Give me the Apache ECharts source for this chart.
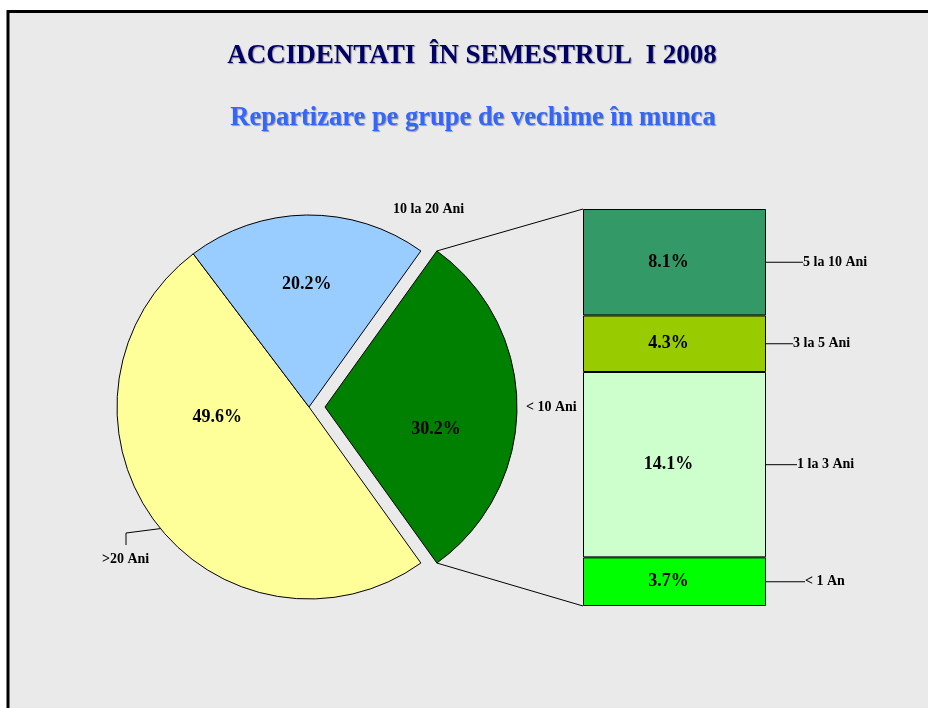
<!DOCTYPE html>
<html>
<head>
<meta charset="utf-8">
<script src="https://cdn.jsdelivr.net/npm/echarts@6/dist/echarts.min.js"></script>
<style>
html, body { margin: 0; padding: 0; background: #fff; }
#main { width: 928px; height: 708px; }
</style>
</head>
<body>
<div id="main"></div>
<script>
// pie: the exploded slice (< 10 Ani) is broken down in the bar on the right
var pieNames = ['< 10 Ani', '>20 Ani', '10 la 20 Ani'];
var pieValues = [30.2, 49.6, 20.2];
var pieColors = ['#008000', '#ffff99', '#99ccff'];

// stacked bar, bottom to top
var barNames = ['< 1 An', '1 la 3 Ani', '3 la 5 Ani', '5 la 10 Ani'];
var barValues = [3.7, 14.1, 4.3, 8.1];
var barColors = ['#00ff00', '#ccffcc', '#99cc00', '#339966'];

var FONT = '"Liberation Serif", "Times New Roman", serif';

// layout
var cx = 309, cy = 407, R = 192, explode = 16;
var gridLeft = 583, gridTop = 209, gridW = 183, gridH = 397;
var leaderLen = [39, 31, 27, 37];
// percent label nudges and name label spots (left edge, middle) for the pie
var pctShift = [[12, 22], [-12, -48], [-1, -24]];
var namePos = [[526, 407], [102, 559], [393, 209]];

var pieTotal = pieValues.reduce(function (a, b) { return a + b; }, 0);
var barTotal = barValues.reduce(function (a, b) { return a + b; }, 0);
var startAngle = pieValues[0] / pieTotal * 360 / 2;

function pieData(ghost) {
    return pieNames.map(function (n, i) {
        return {
            name: n,
            value: pieValues[i],
            selected: !ghost && i === 0,
            itemStyle: ghost ? { color: 'rgba(0,0,0,0)', borderWidth: 0 }
                             : { color: pieColors[i], borderColor: '#000', borderWidth: 1 },
            labelLine: { show: ghost && i === 1 }
        };
    });
}

// connector lines from the exploded slice to the bar
var a = startAngle * Math.PI / 180;
var sx = cx + explode + R * Math.cos(a);
var lines = [
    [[sx, cy - R * Math.sin(a)], [gridLeft, gridTop]],
    [[sx, cy + R * Math.sin(a)], [gridLeft, gridTop + gridH]]
];

// leader for >20 Ani starts on the rim
var rimA = 219.3 * Math.PI / 180;
var rimPt = [cx + R * Math.cos(rimA), cy - R * Math.sin(rimA)];

var series = [{
    type: 'pie',
    center: [cx, cy],
    radius: R,
    startAngle: startAngle,
    clockwise: true,
    selectedMode: 'single',
    selectedOffset: explode,
    silent: true,
    emphasis: { disabled: true },
    z: 3,
    data: pieData(false),
    label: {
        position: 'inside',
        color: '#000',
        fontFamily: FONT,
        fontWeight: 'bold',
        fontSize: 18,
        formatter: function (p) { return p.value.toFixed(1) + '%'; }
    },
    labelLayout: function (p) {
        return { dx: pctShift[p.dataIndex][0], dy: pctShift[p.dataIndex][1] };
    }
}, {
    type: 'pie',
    center: [cx, cy],
    radius: R,
    startAngle: startAngle,
    clockwise: true,
    selectedMode: false,
    silent: true,
    emphasis: { disabled: true },
    z: 4,
    data: pieData(true),
    label: {
        position: 'outside',
        color: '#000',
        fontFamily: FONT,
        fontWeight: 'bold',
        fontSize: 14,
        formatter: '{b}'
    },
    labelLine: { lineStyle: { color: '#000', width: 1 } },
    labelLayout: function (p) {
        var pos = namePos[p.dataIndex];
        var out = { x: pos[0], y: pos[1], align: 'left', verticalAlign: 'middle' };
        if (p.dataIndex === 1) {
            out.labelLinePoints = [rimPt, [pos[0] + 24, pos[1] - 26], [pos[0] + 24, pos[1] - 14]];
        }
        return out;
    }
}];

barNames.forEach(function (n, i) {
    series.push({
        type: 'bar',
        name: n,
        stack: 'seg',
        barWidth: '100%',
        barGap: '-100%',
        silent: true,
        z: 3,
        data: [barValues[i]],
        itemStyle: { color: barColors[i], borderColor: '#000', borderWidth: 1 },
        label: {
            show: true,
            position: 'inside',
            offset: [-6, 0],
            color: '#000',
            fontFamily: FONT,
            fontWeight: 'bold',
            fontSize: 18,
            formatter: function (p) { return p.value.toFixed(1) + '%'; }
        }
    });
});
barNames.forEach(function (n, i) {
    series.push({
        type: 'bar',
        name: n + ' ',
        stack: 'names',
        barWidth: '100%',
        barGap: '-100%',
        silent: true,
        z: 4,
        data: [barValues[i]],
        itemStyle: { color: 'rgba(0,0,0,0)' },
        label: {
            show: true,
            position: 'right',
            distance: 0,
            formatter: '{l|}{n|' + n + '}',
            rich: {
                l: { width: leaderLen[i], height: 1, backgroundColor: '#000' },
                n: { color: '#000', fontFamily: FONT, fontWeight: 'bold', fontSize: 14 }
            }
        }
    });
});

var titleShadow = { textShadowColor: 'rgba(0,0,0,0.35)', textShadowBlur: 1, textShadowOffsetX: 1, textShadowOffsetY: 1 };

var option = {
    backgroundColor: '#eaeaea',
    animation: false,
    title: [{
        text: 'ACCIDENTATI  ÎN SEMESTRUL  I 2008',
        left: 472, top: 43, textAlign: 'center', padding: 0,
        textStyle: Object.assign({ color: '#000066', fontFamily: FONT, fontWeight: 'bold', fontSize: 27 }, titleShadow)
    }, {
        text: 'Repartizare pe grupe de vechime în munca',
        left: 473, top: 105, textAlign: 'center', padding: 0,
        textStyle: Object.assign({ color: '#3366ff', fontFamily: FONT, fontWeight: 'bold', fontSize: 26.5 }, titleShadow)
    }],
    grid: { left: gridLeft, top: gridTop, width: gridW, height: gridH },
    xAxis: { type: 'category', data: [''], show: false },
    yAxis: { type: 'value', min: 0, max: barTotal, show: false },
    series: series,
    graphic: [
        { type: 'rect', shape: { x: 0, y: 0, width: 928, height: 10 }, style: { fill: '#fff' }, silent: true },
        { type: 'rect', shape: { x: 0, y: 0, width: 7, height: 708 }, style: { fill: '#fff' }, silent: true },
        { type: 'polyline', shape: { points: [[8, 708], [8, 11.5], [928, 11.5]] },
          style: { stroke: '#000', lineWidth: 3, fill: null }, silent: true },
        { type: 'line', shape: { x1: lines[0][0][0], y1: lines[0][0][1], x2: lines[0][1][0], y2: lines[0][1][1] },
          style: { stroke: '#000', lineWidth: 1 }, silent: true },
        { type: 'line', shape: { x1: lines[1][0][0], y1: lines[1][0][1], x2: lines[1][1][0], y2: lines[1][1][1] },
          style: { stroke: '#000', lineWidth: 1 }, silent: true }
    ]
};

var myChart = echarts.init(document.getElementById('main'));
myChart.setOption(option);
</script>
</body>
</html>
